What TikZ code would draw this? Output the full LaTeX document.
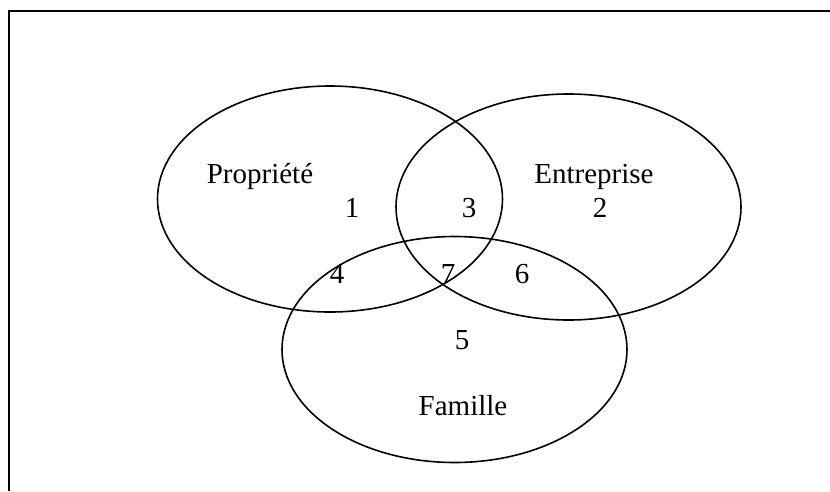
\documentclass[tikz,border=0pt]{standalone}
\usepackage{fontspec}
\setmainfont{Liberation Serif}
\usetikzlibrary{positioning,shapes}
\tikzstyle{set} = [draw, ellipse, line width=1.6pt, minimum width=345pt, minimum height=226pt, inner sep=0pt]
\tikzstyle{label} = [anchor=base, inner sep=0pt, font=\fontsize{29}{31}\selectfont]
\tikzstyle{frame} = [draw, line width=2pt]

\begin{document}
\begin{tikzpicture}[x=1pt, y=-1pt]
    \useasboundingbox (0,0) rectangle (830,491);
    % Frame
    \path [frame] (9,491) -- (9,11) -- (830,11);
    % Place sets
    \node [set] (propriete) at (330,199) {};
    \node [set] (entreprise) at (568.5,207) {};
    \node [set] (famille) at (454.5,349.5) {};
    % Place labels
    \node [label] (propriete-name) at (260,183) {Propriété};
    \node [label] (entreprise-name) at (594,183) {Entreprise};
    \node [label] (famille-name) at (463,415) {Famille};
    \node [label] (zone1) at (352,217) {1};
    \node [label] (zone2) at (600,217) {2};
    \node [label] (zone3) at (469,217) {3};
    \node [label] (zone4) at (337,283) {4};
    \node [label] (zone5) at (462,349) {5};
    \node [label] (zone6) at (522,283) {6};
    \node [label] (zone7) at (448,283) {7};
\end{tikzpicture}
\end{document}
